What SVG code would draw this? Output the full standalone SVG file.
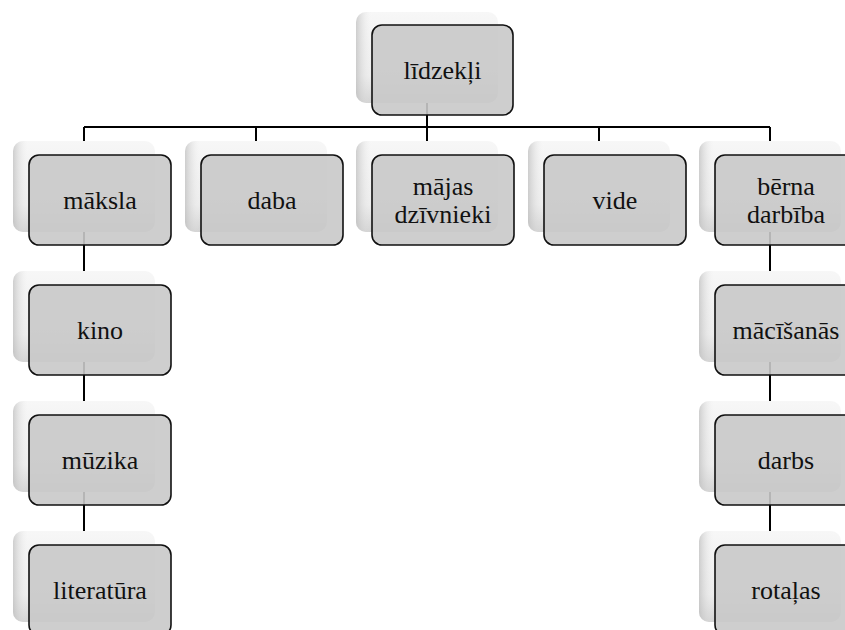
<svg xmlns="http://www.w3.org/2000/svg" width="845" height="630" viewBox="0 0 845 630">
<defs>
<linearGradient id="bg" x1="0" y1="0" x2="0" y2="1">
<stop offset="0" stop-color="#f7f7f7"/>
<stop offset="0.7" stop-color="#ececec"/>
<stop offset="1" stop-color="#cfcfcf"/>
</linearGradient>
<linearGradient id="bgl" x1="0" y1="0" x2="1" y2="0">
<stop offset="0" stop-color="#bdbdbd" stop-opacity="0.7"/>
<stop offset="0.12" stop-color="#ffffff" stop-opacity="0"/>
</linearGradient>
<style>
.back{fill:url(#bg);}
.backl{fill:url(#bgl);}
.main{fill:#c9c9c9;fill-opacity:0.9;stroke:#111;stroke-width:1.6;}
.t{font-family:"Liberation Serif","Times New Roman",serif;font-size:26px;fill:#111;text-anchor:middle;}
.c{stroke:#000;stroke-width:2;fill:none;}
</style>
</defs>
<rect width="845" height="630" fill="#fff"/>
<g id="connectors">
<path class="c" d="M427,70 V127 M84,127 H770 M84,127 V531 M256,127 V141 M427,127 V141 M599,127 V141 M770,127 V531"/>
</g>
<g id="n0"><rect class="back" x="356" y="12" width="142" height="91" rx="10"/><rect class="backl" x="356" y="12" width="142" height="91" rx="10"/><rect class="main" x="372" y="25" width="141" height="90" rx="10"/><text class="t" x="442.5" y="78.5">līdzekļi</text></g>
<g id="n1"><rect class="back" x="13" y="141" width="142" height="91" rx="10"/><rect class="backl" x="13" y="141" width="142" height="91" rx="10"/><rect class="main" x="29" y="155" width="142" height="90" rx="10"/><text class="t" x="100" y="208.5">māksla</text></g>
<g id="n2"><rect class="back" x="185" y="141" width="142" height="91" rx="10"/><rect class="backl" x="185" y="141" width="142" height="91" rx="10"/><rect class="main" x="201" y="155" width="142" height="90" rx="10"/><text class="t" x="272" y="208.5">daba</text></g>
<g id="n3"><rect class="back" x="356" y="141" width="142" height="91" rx="10"/><rect class="backl" x="356" y="141" width="142" height="91" rx="10"/><rect class="main" x="372" y="155" width="142" height="90" rx="10"/><text class="t" x="443" y="195">mājas</text><text class="t" x="443" y="223">dzīvnieki</text></g>
<g id="n4"><rect class="back" x="528" y="141" width="142" height="91" rx="10"/><rect class="backl" x="528" y="141" width="142" height="91" rx="10"/><rect class="main" x="544" y="155" width="142" height="90" rx="10"/><text class="t" x="615" y="208.5">vide</text></g>
<g id="n5"><rect class="back" x="699" y="141" width="142" height="91" rx="10"/><rect class="backl" x="699" y="141" width="142" height="91" rx="10"/><rect class="main" x="715" y="155" width="142" height="90" rx="10"/><text class="t" x="786" y="195">bērna</text><text class="t" x="786" y="223">darbība</text></g>
<g id="n6"><rect class="back" x="13" y="271" width="142" height="91" rx="10"/><rect class="backl" x="13" y="271" width="142" height="91" rx="10"/><rect class="main" x="29" y="285" width="142" height="90" rx="10"/><text class="t" x="100" y="338.5">kino</text></g>
<g id="n7"><rect class="back" x="13" y="401" width="142" height="91" rx="10"/><rect class="backl" x="13" y="401" width="142" height="91" rx="10"/><rect class="main" x="29" y="415" width="142" height="90" rx="10"/><text class="t" x="100" y="468.5">mūzika</text></g>
<g id="n8"><rect class="back" x="13" y="531" width="142" height="91" rx="10"/><rect class="backl" x="13" y="531" width="142" height="91" rx="10"/><rect class="main" x="29" y="545" width="142" height="90" rx="10"/><text class="t" x="100" y="598.5">literatūra</text></g>
<g id="n9"><rect class="back" x="699" y="271" width="142" height="91" rx="10"/><rect class="backl" x="699" y="271" width="142" height="91" rx="10"/><rect class="main" x="715" y="285" width="142" height="90" rx="10"/><text class="t" x="786" y="338.5">mācīšanās</text></g>
<g id="n10"><rect class="back" x="699" y="401" width="142" height="91" rx="10"/><rect class="backl" x="699" y="401" width="142" height="91" rx="10"/><rect class="main" x="715" y="415" width="142" height="90" rx="10"/><text class="t" x="786" y="468.5">darbs</text></g>
<g id="n11"><rect class="back" x="699" y="531" width="142" height="91" rx="10"/><rect class="backl" x="699" y="531" width="142" height="91" rx="10"/><rect class="main" x="715" y="545" width="142" height="90" rx="10"/><text class="t" x="786" y="598.5">rotaļas</text></g>
</svg>
